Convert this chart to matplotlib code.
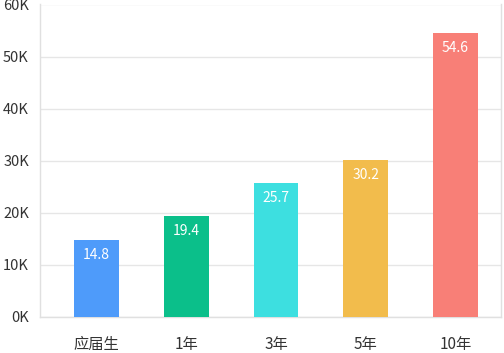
import matplotlib.pyplot as plt
from matplotlib.ticker import FuncFormatter

plt.rcParams['font.family'] = ['Noto Sans CJK SC', 'DejaVu Sans']

# salary by experience
categories = ['应届生', '1年', '3年', '5年', '10年']
salaries = [14800, 19400, 25700, 30200, 54600]
colors = ['#4e9bfa', '#0bbf8a', '#3ddfe0', '#f2bc4c', '#f87f77']
y_ticks = [0, 10000, 20000, 30000, 40000, 50000, 60000]

fig = plt.figure(figsize=(5.04, 3.53), dpi=100)
ax = fig.add_axes([40 / 504, 36 / 353, 461 / 504, 312.5 / 353])

x = range(len(categories))
ax.bar(x, salaries, width=0.5, color=colors, zorder=3)

# value labels inside top of each bar
for i, v in zip(x, salaries):
    ax.annotate(f'{v / 1000:.1f}', xy=(i, v), xytext=(0, -15), textcoords='offset pixels',
                ha='center', va='center', color='white', fontsize=10, zorder=4)

ax.set_xlim(-0.63, 4.508)
ax.set_ylim(0, 60000)
ax.set_yticks(y_ticks)
ax.yaxis.set_major_formatter(FuncFormatter(lambda v, p: f'{int(v / 1000)}K'))
ax.set_xticks(list(x))
ax.set_xticklabels(categories)

ax.grid(axis='y', color='#e6e6e6', linewidth=1, zorder=0)
ax.tick_params(length=0, labelsize=11, labelcolor='#333333')
ax.tick_params(axis='y', pad=8, labelsize=10.5)
ax.tick_params(axis='x', pad=14)

for side in ['left', 'right', 'bottom']:
    ax.spines[side].set_color('#e0e0e0')
    ax.spines[side].set_linewidth(1)
ax.spines['top'].set_visible(False)

plt.savefig('out.png', dpi=100)
